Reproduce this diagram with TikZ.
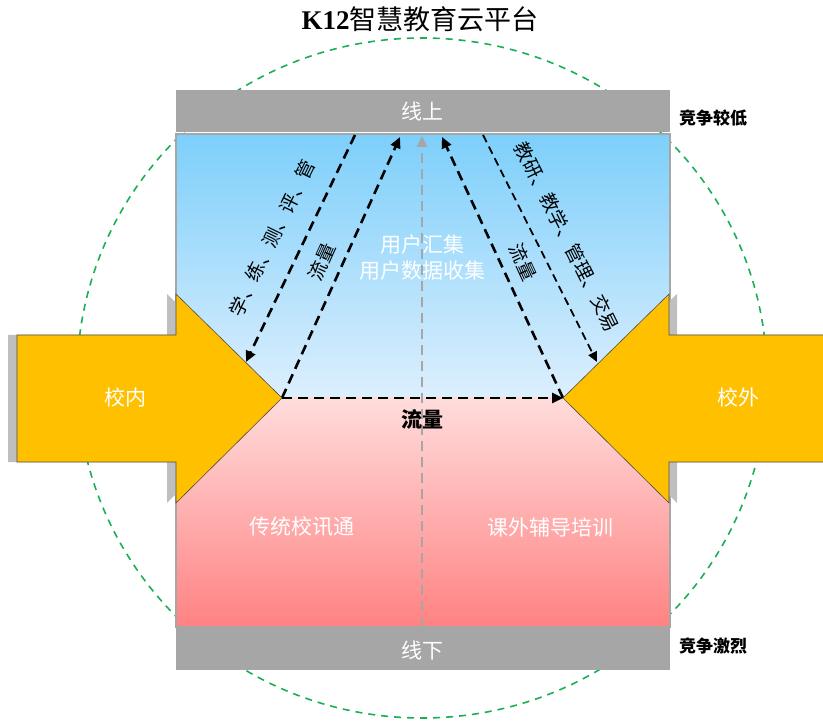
\documentclass[tikz,border=0pt]{standalone}
\usepackage{fontspec}
\setmainfont{Liberation Serif}
\newfontfamily\cjk{Noto Sans CJK SC}
\usetikzlibrary{arrows.meta}
\definecolor{barg}{HTML}{A6A6A6}
\definecolor{shad}{HTML}{BFBFBF}
\definecolor{orng}{HTML}{FFC000}
\definecolor{blueTop}{HTML}{7DCFFB}
\definecolor{blueBot}{HTML}{DDEFFD}
\definecolor{pinkTop}{HTML}{FFDCDC}
\definecolor{pinkBot}{HTML}{FF8282}
\definecolor{grn}{HTML}{1AAF54}
\begin{document}
\begin{tikzpicture}[x=1pt,y=-1pt,
  wtext/.style={text=white,font=\cjk\fontsize{21}{24}\selectfont,inner sep=0pt},
  rtext/.style={text=black,font=\cjk\fontsize{19}{21}\selectfont,inner sep=0pt},
  side/.style={text=black,font=\cjk\bfseries\fontsize{17}{19}\selectfont,inner sep=0pt},
  flowline/.style={line width=2.6pt,dash pattern=on 10pt off 6pt,-{Triangle[length=11pt,width=10pt]}},
  thinflow/.style={line width=1.8pt,dash pattern=on 8pt off 5pt,-{Triangle[length=10pt,width=9pt]}},
  bigarrow/.style={fill=orng,draw=black!70,line width=0.6pt},
  arrowshadow/.style={fill=shad},
  bar/.style={fill=barg}]
\useasboundingbox (0,0) rectangle (823,722);
% dashed circle
\draw[grn,line width=1.6pt,dash pattern=on 7pt off 6pt] (422,378) ellipse [x radius=345,y radius=340];
% regions
\shade[top color=blueTop,bottom color=blueBot] (176,134) rectangle (670,398);
\shade[top color=pinkTop,bottom color=pinkBot] (176,398) rectangle (670,627);
\draw[barg,line width=1.5pt] (176,134) rectangle (670,627);
% bars
\fill[bar] (176,90) rectangle (670,132);
\fill[bar] (176,627) rectangle (670,670);
\node[wtext] (online) at (422,111) {线上};
\node[wtext] (offline) at (422,650) {线下};
% coordinates
\coordinate (tipL) at (282,398);
\coordinate (tipR) at (563,398);
\coordinate (lo1) at (355,135);
\coordinate (lo2) at (246,362);
\coordinate (li2) at (400,137);
\coordinate (ri2) at (442,137);
\coordinate (ro1) at (483,135);
\coordinate (ro2) at (597,362);
\coordinate (cb) at (422,627);
\coordinate (ct) at (422,136);
% centre gray dashed
\draw[barg,line width=2.6pt,dash pattern=on 10pt off 6pt,-{Triangle[length=11pt,width=10pt]}] (cb) -- (ct);
% flows
\draw[flowline] (lo1) -- (lo2);
\draw[flowline] (tipL) -- (li2);
\draw[flowline] (tipR) -- (ri2);
\draw[flowline] (tipL) -- (tipR);
\draw[thinflow] (ro1) -- (ro2);
% labels
\node[rtext,rotate=64] (lblL) at (272,238) {学、练、测、评、管};
\node[rtext,rotate=65.7] (flowL) at (322,262) {流量};
\node[rtext,rotate=-65.4] (flowR) at (523,262) {流量};
\node[rtext,rotate=-63.4] (lblR) at (567,237) {教研、教学、管理、交易};
\node[wtext] (gather1) at (422,245) {用户汇集};
\node[wtext] (gather2) at (422,271) {用户数据收集};
\node[text=black,font=\cjk\bfseries\fontsize{21}{23}\selectfont,inner sep=0pt] (flowC) at (422,419) {流量};
\node[wtext] (trad) at (302,527) {传统校讯通};
\node[wtext] (tutor) at (550,527) {课外辅导培训};
% big arrows: shadows
\fill[arrowshadow] (8,335) -- (167,335) -- (167,294) -- (271,398) -- (167,503) -- (167,462) -- (8,462) -- cycle;
\fill[arrowshadow] (831,335) -- (677,335) -- (677,294) -- (572,398) -- (677,503) -- (677,462) -- (831,462) -- cycle;
% big arrows
\draw[bigarrow] (17,335) -- (176,335) -- (176,294) -- (tipL) -- (176,503) -- (176,462) -- (17,462) -- cycle;
\draw[bigarrow] (824,335) -- (669,335) -- (669,294) -- (tipR) -- (669,503) -- (669,462) -- (824,462);
\node[wtext] (inner) at (125,397) {校内};
\node[wtext] (outer) at (738,397) {校外};
% side labels
\node[side] (low) at (713,118) {竞争较低};
\node[side] (high) at (713,646) {竞争激烈};
% title
\node[inner sep=0pt] (title) at (420,19) {\fontsize{27}{29}\selectfont\textbf{K12}\cjk 智慧教育云平台};
\end{tikzpicture}
\end{document}
